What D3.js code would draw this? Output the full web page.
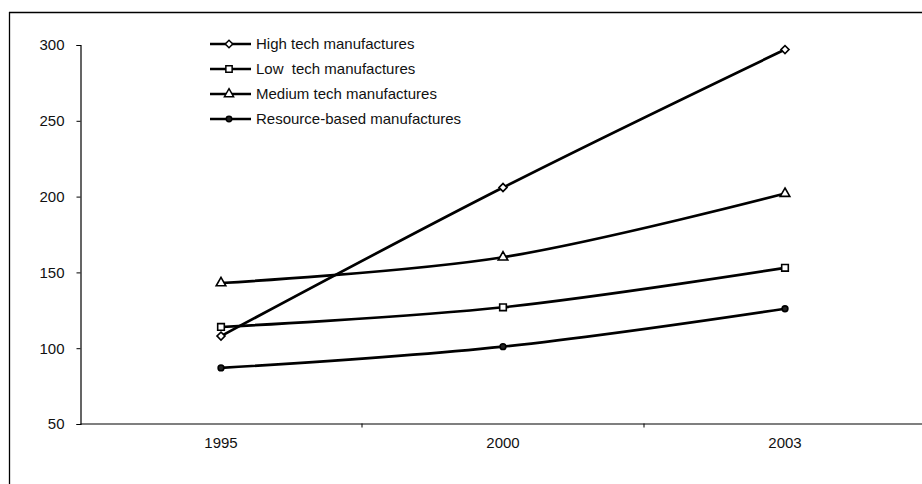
<!DOCTYPE html>
<html>
<head>
<meta charset="utf-8">
<script src="https://cdn.jsdelivr.net/npm/d3@7"></script>
<style>
  body { margin: 0; background: #fff; }
  svg { display: block; font-family: "Liberation Sans", Arial, sans-serif; }
</style>
</head>
<body>
<svg id="chart"></svg>
<script>
// Size of the picture
const width = 922;
const height = 484;

// Data
const years = ["1995", "2000", "2003"];
const seriesNames = ["High tech manufactures", "Low  tech manufactures", "Medium tech manufactures", "Resource-based manufactures"];
const highTech = [108, 206, 297];
const lowTech = [114, 127, 153];
const mediumTech = [143, 160, 202];
const resourceBased = [87, 101, 126];
const yTicks = [50, 100, 150, 200, 250, 300];

const series = [
  {name: seriesNames[0], values: highTech, symbol: "diamond"},
  {name: seriesNames[1], values: lowTech, symbol: "square"},
  {name: seriesNames[2], values: mediumTech, symbol: "triangle"},
  {name: seriesNames[3], values: resourceBased, symbol: "circle"}
];

const svg = d3.select("#chart")
  .attr("width", width)
  .attr("height", height);

// Frame of the scanned page
svg.append("line")
  .attr("x1", 9).attr("x2", width).attr("y1", 12.5).attr("y2", 12.5)
  .attr("stroke", "#000").attr("stroke-width", 1.3);
svg.append("line")
  .attr("x1", 9.5).attr("x2", 9.5).attr("y1", 12).attr("y2", height)
  .attr("stroke", "#000").attr("stroke-width", 1.3);

// Scales
const x = d3.scaleBand()
  .domain(years)
  .range([80, 926]);
const y = d3.scaleLinear()
  .domain([50, 300])
  .range([424, 45]);

// Y axis
const yAxis = svg.append("g")
  .attr("transform", "translate(80.5, 0)")
  .call(d3.axisLeft(y).tickValues(yTicks).tickSize(4).tickPadding(12));
yAxis.select(".domain").attr("stroke-width", 1.2);
yAxis.selectAll("text").attr("font-size", 15).attr("fill", "#111");

// X axis, ticks between categories
const xAxis = svg.append("g")
  .attr("transform", "translate(0, 423.5)")
  .call(d3.axisBottom(x).tickSize(0).tickPadding(14));
xAxis.select(".domain").attr("stroke-width", 1.2);
xAxis.selectAll("text").attr("font-size", 15).attr("fill", "#111");
xAxis.selectAll(".sep")
  .data(years.slice(1))
  .enter().append("line")
  .attr("class", "sep")
  .attr("x1", (d) => x(d)).attr("x2", (d) => x(d))
  .attr("y1", 0).attr("y2", 4)
  .attr("stroke", "#000");

// Smoothed lines
const line = d3.line()
  .x((d, i) => x(years[i]) + x.bandwidth() / 2)
  .y((d) => y(d))
  .curve(d3.curveCatmullRom.alpha(0.5));

svg.selectAll(".serie")
  .data(series)
  .enter().append("path")
  .attr("class", "serie")
  .attr("d", (d) => line(d.values))
  .attr("fill", "none")
  .attr("stroke", "#000")
  .attr("stroke-width", 2.7);

// Marker shapes (diamond = square turned by 45 degrees)
const symbolTypes = {
  diamond: d3.symbolSquare,
  square: d3.symbolSquare,
  triangle: d3.symbolTriangle,
  circle: d3.symbolCircle
};
const symbolSizes = {diamond: 32, square: 44, triangle: 40, circle: 26};

function symbolPath(kind, scale) {
  return d3.symbol().type(symbolTypes[kind]).size(symbolSizes[kind] * scale)();
}
function symbolRotate(kind) {
  return kind === "diamond" ? " rotate(45)" : "";
}

series.forEach((s) => {
  svg.selectAll(null)
    .data(s.values)
    .enter().append("path")
    .attr("transform", (d, i) => `translate(${x(years[i]) + x.bandwidth() / 2}, ${y(d)})` + symbolRotate(s.symbol))
    .attr("d", symbolPath(s.symbol, 1))
    .attr("fill", s.symbol === "circle" ? "#222" : "#fff")
    .attr("stroke", "#000")
    .attr("stroke-width", 1.6);
});

// Legend
const legend = svg.append("g")
  .attr("transform", "translate(210, 44)");

const rows = legend.selectAll("g")
  .data(series)
  .enter().append("g")
  .attr("transform", (d, i) => `translate(0, ${i * 25})`);

rows.append("line")
  .attr("x1", 0).attr("x2", 41)
  .attr("y1", 0).attr("y2", 0)
  .attr("stroke", "#000")
  .attr("stroke-width", 2.6);

rows.append("path")
  .attr("transform", (d) => "translate(19, 0)" + symbolRotate(d.symbol))
  .attr("d", (d) => symbolPath(d.symbol, 0.9))
  .attr("fill", (d) => d.symbol === "circle" ? "#222" : "#fff")
  .attr("stroke", "#000")
  .attr("stroke-width", 1.5);

rows.append("text")
  .attr("x", 46)
  .attr("y", 1)
  .attr("dominant-baseline", "middle")
  .attr("font-size", 15)
  .attr("fill", "#111")
  .style("white-space", "pre")
  .text((d) => d.name);
</script>
</body>
</html>
